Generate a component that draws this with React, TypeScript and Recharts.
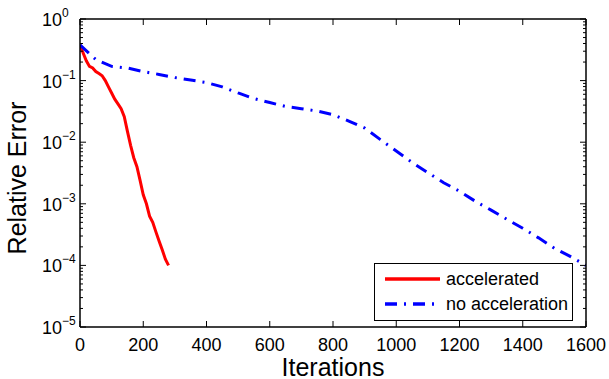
// Convergence plot: relative error vs iterations, accelerated vs plain, log y axis.

import { LineChart, Line, XAxis, YAxis, Legend } from "recharts";

const redIters = [0, 10, 20, 30, 40, 50, 60, 70, 80, 90, 100, 110, 120, 130, 140, 150, 160, 170, 180, 190, 200, 210, 220, 230, 240, 250, 260, 270, 280];
const redError = [0.38, 0.28, 0.21, 0.17, 0.16, 0.14, 0.13, 0.12, 0.1, 0.079, 0.063, 0.05, 0.042, 0.035, 0.026, 0.015, 0.0089, 0.0056, 0.004, 0.0024, 0.0014, 0.001, 6.3e-4, 5.0e-4, 3.5e-4, 2.5e-4, 1.8e-4, 1.26e-4, 1.0e-4];

const blueIters = [0, 50, 100, 150, 200, 250, 300, 350, 400, 450, 500, 550, 600, 650, 700, 750, 800, 850, 900, 950, 1000, 1050, 1100, 1150, 1200, 1250, 1300, 1350, 1400, 1450, 1500, 1550, 1600];
const blueError = [0.38, 0.22, 0.17, 0.16, 0.14, 0.126, 0.112, 0.102, 0.093, 0.079, 0.063, 0.051, 0.044, 0.038, 0.035, 0.032, 0.028, 0.022, 0.017, 0.011, 0.0072, 0.0047, 0.0032, 0.0022, 0.0016, 0.0011, 7.9e-4, 5.6e-4, 4.0e-4, 2.8e-4, 1.9e-4, 1.4e-4, 1.0e-4];

const xTicks = [0, 200, 400, 600, 800, 1000, 1200, 1400, 1600];
const yExponents = [-5, -4, -3, -2, -1, 0];
const seriesNames = ["accelerated", "no acceleration"];

const RED = "#FF0000";
const BLUE = "#0000FF";
const DASH = "12 7 2 7";
const FONT = "'Liberation Sans', Arial, Helvetica, sans-serif";
const AXIS = { stroke: "#000", strokeWidth: 1.5 };

// decades plus 2..9 minor ticks, like matlab's log axis
const yTicks: number[] = [];
yExponents.forEach((e) => {
    yTicks.push(Math.pow(10, e));
    if (e < 0) for (let m = 2; m <= 9; m++) yTicks.push(m * Math.pow(10, e));
});

const redData = redIters.map((it, i) => ({ it, err: redError[i] }));
const blueData = blueIters.map((it, i) => ({ it, err: blueError[i] }));

function isDecade(v: number) {
    const l = Math.log10(v);
    return Math.abs(l - Math.round(l)) < 1e-6;
}

function LeftTick(props: any) {
    const { x, y, payload } = props;
    const major = isDecade(payload.value);
    const exp = Math.round(Math.log10(payload.value));
    return (
        <g>
            <line x1={x} x2={x + (major ? 6 : 3)} y1={y} y2={y} stroke="#000" strokeWidth={1} />
            {major && (
                <text x={x - 38} y={y + 7} fontSize={18} fontFamily={FONT} fill="#000" textAnchor="start">
                    <tspan>10</tspan>
                    <tspan dy={-9} fontSize={12}>{exp < 0 ? `\u2212${-exp}` : `${exp}`}</tspan>
                </text>
            )}
        </g>
    );
}

function RightTick(props: any) {
    const { x, y, payload } = props;
    const major = isDecade(payload.value);
    return <line x1={x} x2={x - (major ? 6 : 3)} y1={y} y2={y} stroke="#000" strokeWidth={1} />;
}

function BottomTick(props: any) {
    const { x, y, payload } = props;
    return (
        <g>
            <line x1={x} x2={x} y1={y} y2={y - 6} stroke="#000" strokeWidth={1} />
            <text x={x} y={y + 24} fontSize={18} fontFamily={FONT} fill="#000" textAnchor="middle">
                {payload.value}
            </text>
        </g>
    );
}

function TopTick(props: any) {
    const { x, y } = props;
    return <line x1={x} x2={x} y1={y} y2={y + 6} stroke="#000" strokeWidth={1} />;
}

function YTitle(props: any) {
    const vb = props.viewBox || { x: 0, y: 19, width: 80, height: 308 };
    const cx = vb.x + 26;
    const cy = vb.y + vb.height / 2 + 5;
    return (
        <text x={cx} y={cy} transform={`rotate(-90 ${cx} ${cy})`} textAnchor="middle" fontSize={25} fontFamily={FONT} fill="#000">
            Relative Error
        </text>
    );
}

function XTitle(props: any) {
    const vb = props.viewBox || { x: 80, y: 327, width: 506, height: 52 };
    return (
        <text x={vb.x + vb.width / 2} y={vb.y + vb.height - 3} textAnchor="middle" fontSize={25} fontFamily={FONT} fill="#000">
            Iterations
        </text>
    );
}

function LegendBox(props: any) {
    const items = (props.payload || []).filter((p: any) => p.type !== "none");
    return (
        <div style={{ width: 197, height: 56, border: "1.5px solid #000", background: "#fff", position: "relative", fontFamily: FONT, fontSize: 18, color: "#000" }}>
            {items.map((it: any, i: number) => (
                <div key={i} style={{ position: "absolute", left: 10, top: 4 + i * 25, height: 22, display: "flex", alignItems: "center" }}>
                    <svg width={55} height={22}>
                        <line x1={0} x2={55} y1={11} y2={11} stroke={it.color} strokeWidth={3.5} strokeDasharray={it.payload?.strokeDasharray} />
                    </svg>
                    <span style={{ marginLeft: 6, lineHeight: "22px", whiteSpace: "nowrap" }}>{it.value}</span>
                </div>
            ))}
        </div>
    );
}

export default function App() {
    return (
        <div style={{ position: "fixed", left: 0, top: 0, width: 609, height: 379, background: "#fff" }}>
            <LineChart width={609} height={379} margin={{ top: 0, right: 0, bottom: 0, left: 0 }}>
                <XAxis
                    xAxisId="b" dataKey="it" type="number" domain={[0, 1600]} ticks={xTicks} interval={0}
                    allowDataOverflow tickSize={0} tickMargin={0} tickLine={false} axisLine={AXIS}
                    tick={<BottomTick />} height={52} label={<XTitle />}
                />
                <XAxis
                    xAxisId="t" orientation="top" dataKey="it" type="number" domain={[0, 1600]} ticks={xTicks} interval={0}
                    allowDataOverflow tickSize={0} tickMargin={0} tickLine={false} axisLine={AXIS}
                    tick={<TopTick />} height={19}
                />
                <YAxis
                    yAxisId="l" type="number" scale="log" domain={[1e-5, 1]} ticks={yTicks} interval={0}
                    allowDataOverflow tickSize={0} tickMargin={0} tickLine={false} axisLine={AXIS}
                    tick={<LeftTick />} width={80} label={<YTitle />}
                />
                <YAxis
                    yAxisId="r" orientation="right" type="number" scale="log" domain={[1e-5, 1]} ticks={yTicks} interval={0}
                    allowDataOverflow tickSize={0} tickMargin={0} tickLine={false} axisLine={AXIS}
                    tick={<RightTick />} width={23}
                />
                <Legend
                    layout="horizontal" verticalAlign="middle" align="center" content={<LegendBox />}
                    wrapperStyle={{ left: 374, top: 263, width: 200, height: 59 }}
                />
                <Line
                    xAxisId="t" yAxisId="r" data={blueData} dataKey="err" stroke="none" dot={false}
                    legendType="none" isAnimationActive={false}
                />
                <Line
                    xAxisId="b" yAxisId="l" data={redData} dataKey="err" name={seriesNames[0]} stroke={RED}
                    strokeWidth={3} dot={false} isAnimationActive={false}
                />
                <Line
                    xAxisId="b" yAxisId="l" data={blueData} dataKey="err" name={seriesNames[1]} stroke={BLUE}
                    strokeWidth={3} strokeDasharray={DASH} dot={false} isAnimationActive={false}
                />
            </LineChart>
        </div>
    );
}
